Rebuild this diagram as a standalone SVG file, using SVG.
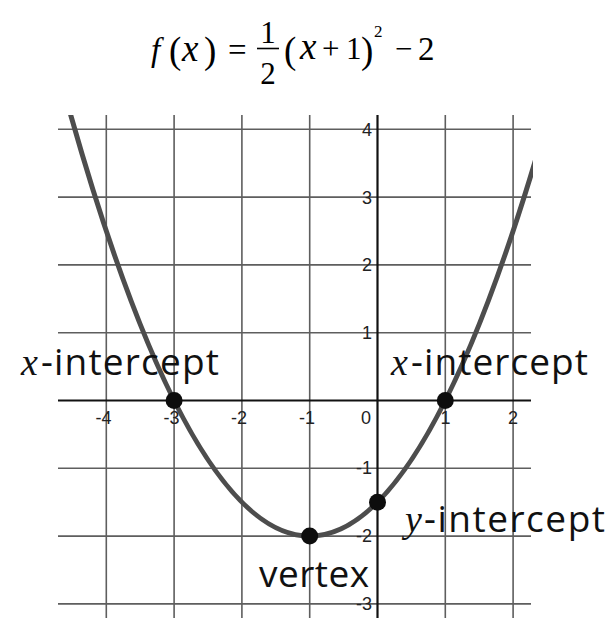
<svg xmlns="http://www.w3.org/2000/svg" width="613" height="618" viewBox="0 0 613 618">
<style>
.grid{stroke:#5e5e5e;stroke-width:1.6;fill:none}
.axis{stroke:#111;stroke-width:2.2;fill:none}
.tick{font-family:"Liberation Sans",Arial,sans-serif;font-size:18px;fill:#222}
.eq{font-family:"Liberation Serif","Times New Roman",serif;font-size:31px;fill:#000}
.it{font-style:italic}
.lbl{font-family:"Open Sans","Noto Sans",sans-serif;font-size:37px;fill:#111}
.var{font-family:"Liberation Serif","Times New Roman",serif;font-style:italic;font-size:38px;fill:#111}
.pt{fill:#0d0d0d}
</style>
<defs>
<clipPath id="plot"><rect x="58" y="115" width="475" height="503"/></clipPath>
</defs>
<rect width="613" height="618" fill="#fff"/>
<g id="title">
<text class="eq it" x="151" y="61" style="font-size:33px">f</text>
<text class="eq" x="169" y="63" style="font-size:37px">(</text>
<text class="eq it" x="182" y="61" style="font-size:37px">x</text>
<text class="eq" x="204" y="63" style="font-size:37px">)</text>
<text class="eq" x="228" y="61" style="font-size:33px">=</text>
<text class="eq" x="268" y="43" text-anchor="middle">1</text>
<line x1="257" y1="48.5" x2="279" y2="48.5" stroke="#000" stroke-width="1.6"/>
<text class="eq" x="268" y="84" text-anchor="middle">2</text>
<text class="eq" x="284" y="63" style="font-size:37px">(</text>
<text class="eq it" x="300" y="59" style="font-size:37px">x</text>
<text class="eq" x="322" y="59">+</text>
<text class="eq" x="346" y="59">1</text>
<text class="eq" x="361" y="63" style="font-size:37px">)</text>
<text class="eq" x="374" y="37" style="font-size:17px">2</text>
<text class="eq" x="395" y="59">−</text>
<text class="eq" x="418" y="60" style="font-size:33px">2</text>
</g>
<g id="grid">
<path class="grid" d="M106.3 115V618M174.1 115V618M241.9 115V618M309.7 115V618M445.3 115V618M513.1 115V618"/>
<path class="grid" d="M58 129.3H531M58 197.1H531M58 264.9H531M58 332.7H531M58 468.3H531M58 536.1H531M58 603.9H531"/>
</g>
<g id="axes">
<path class="axis" d="M58 400.5H531"/>
<path class="axis" d="M377.5 115V618"/>
</g>
<g id="ticks">
<text class="tick" x="103.5" y="424" text-anchor="middle">-4</text>
<text class="tick" x="171.5" y="424" text-anchor="middle">-3</text>
<text class="tick" x="239" y="424" text-anchor="middle">-2</text>
<text class="tick" x="307" y="424" text-anchor="middle">-1</text>
<text class="tick" x="366" y="424" text-anchor="middle">0</text>
<text class="tick" x="445.5" y="424" text-anchor="middle">1</text>
<text class="tick" x="513" y="424" text-anchor="middle">2</text>
<text class="tick" x="372" y="136" text-anchor="end">4</text>
<text class="tick" x="372" y="204" text-anchor="end">3</text>
<text class="tick" x="372" y="271" text-anchor="end">2</text>
<text class="tick" x="372" y="339" text-anchor="end">1</text>
<text class="tick" x="372" y="474" text-anchor="end">-1</text>
<text class="tick" x="372" y="542" text-anchor="end">-2</text>
<text class="tick" x="372" y="610" text-anchor="end">-3</text>
</g>
<g id="curve" clip-path="url(#plot)">
<path d="M65.6 96.8Q309.7 975.4 553.8 96.8" fill="none" stroke="#4d4d4d" stroke-width="5"/>
</g>
<g id="points">
<circle id="xint-left" class="pt" cx="174.1" cy="400.5" r="8.5"/>
<circle id="xint-right" class="pt" cx="445.3" cy="400.5" r="8.5"/>
<circle id="vertex" class="pt" cx="309.7" cy="536.1" r="8.5"/>
<circle id="yint" class="pt" cx="377.5" cy="502.2" r="8.5"/>
</g>
<g id="labels">
<g id="label-xint-left"><text class="var" x="21" y="375">x</text><text class="lbl" x="41" y="375" textLength="178" lengthAdjust="spacing">-intercept</text></g>
<g id="label-xint-right"><text class="var" x="391" y="375">x</text><text class="lbl" x="411" y="375" textLength="177" lengthAdjust="spacing">-intercept</text></g>
<g id="label-yint"><text class="var" x="405" y="532">y</text><text class="lbl" x="424" y="532" textLength="181" lengthAdjust="spacing">-intercept</text></g>
<g id="label-vertex"><text class="lbl" x="259" y="587" textLength="110" lengthAdjust="spacing">vertex</text></g>
</g>
</svg>
